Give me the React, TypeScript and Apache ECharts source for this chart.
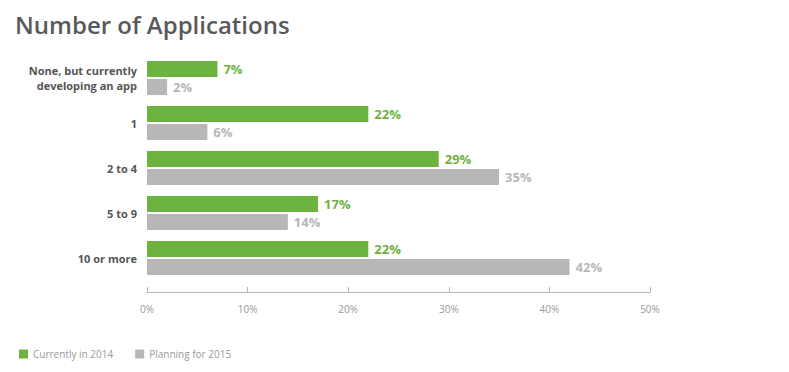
import React, { useEffect, useRef } from "react";
import * as echarts from "echarts";

const categories = ["None, but currently\ndeveloping an app", "1", "2 to 4", "5 to 9", "10 or more"];
const current2014 = [7, 22, 29, 17, 22];
const planning2015 = [2, 6, 35, 14, 42];
const seriesNames = ["Currently in 2014", "Planning for 2015"];

const GREEN = "#6db33f";
const GRAY = "#b7b7b8";

export default function App() {
  const ref = useRef<HTMLDivElement>(null);
  useEffect(() => {
    if (!ref.current) return;
    const chart = echarts.init(ref.current, null, { renderer: "svg" });
    const font = "'Open Sans', sans-serif";
    chart.setOption({
      animation: false,
      textStyle: { fontFamily: font },
      title: {
        text: "Number of Applications",
        left: 10,
        top: 7,
        textStyle: { color: "#58595b", fontSize: 24, fontWeight: 600, fontFamily: font },
      },
      legend: {
        left: 14,
        top: 344,
        icon: "rect",
        itemWidth: 9,
        itemHeight: 9,
        itemGap: 22,
        textStyle: { color: "#9a9a9a", fontSize: 10, fontFamily: font },
        data: seriesNames,
      },
      grid: { left: 147, right: 139, top: 55.5, height: 225, containLabel: false },
      xAxis: {
        type: "value",
        min: 0,
        max: 50,
        interval: 10,
        offset: 11.5,
        axisLine: { show: true, lineStyle: { color: "#b5b5b5", width: 1 } },
        axisTick: { show: true, inside: true, length: 5, lineStyle: { color: "#b5b5b5" } },
        splitLine: { show: false },
        axisLabel: { color: "#999", fontSize: 10, margin: 12, formatter: "{value}%" },
      },
      yAxis: {
        type: "category",
        inverse: true,
        data: categories,
        axisLine: { show: false },
        axisTick: { show: false },
        axisLabel: { color: "#555", fontSize: 11, fontWeight: "bold", margin: 10, lineHeight: 15, align: "right" },
      },
      series: [
        {
          name: seriesNames[0],
          type: "bar",
          data: current2014,
          barGap: "12%",
          barCategoryGap: "24%",
          itemStyle: { color: GREEN },
          label: {
            show: true,
            position: "right",
            distance: 6,
            formatter: "{c}%",
            color: GREEN,
            fontWeight: "bold",
            fontSize: 13,
          },
        },
        {
          name: seriesNames[1],
          type: "bar",
          data: planning2015,
          itemStyle: { color: GRAY },
          label: {
            show: true,
            position: "right",
            distance: 6,
            formatter: "{c}%",
            color: GRAY,
            fontWeight: "bold",
            fontSize: 13,
          },
        },
      ],
    });
    return () => chart.dispose();
  }, []);
  return <div ref={ref} style={{ position: "fixed", left: 0, top: 0, width: 789, height: 372, background: "#fff" }} />;
}
